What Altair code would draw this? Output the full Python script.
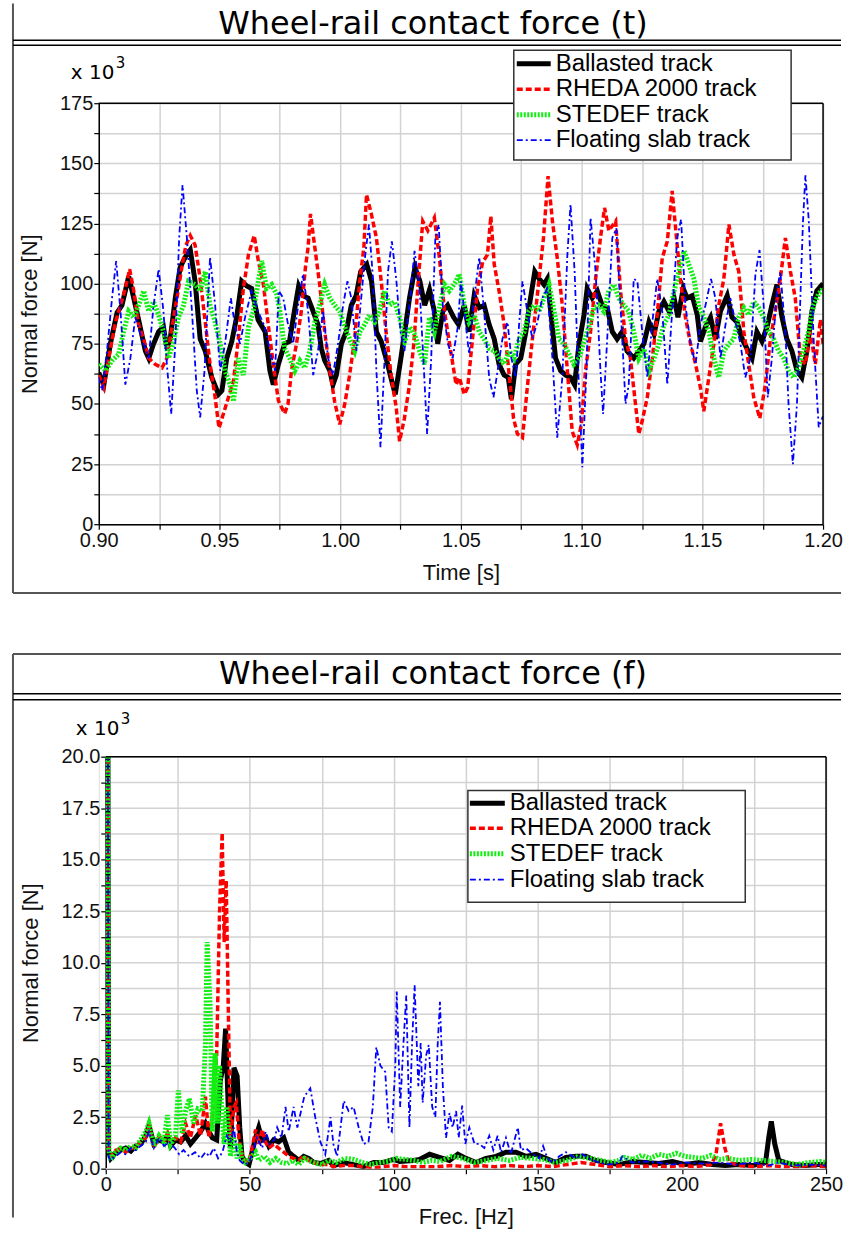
import altair as alt
import pandas as pd

SERIES = ["Ballasted track", "RHEDA 2000 track", "STEDEF track", "Floating slab track"]
COLORS = ["#000000", "#ff0000", "#11ee11", "#0000ff"]
WIDTHS = [5.0, 3.5, 5.0, 1.8]
DASHES = [None, [6, 3], [2, 1.5], [6, 3, 2, 3]]

TITLE_T = "Wheel-rail contact force (t)"
TITLE_F = "Wheel-rail contact force (f)"
X_TITLE_T = "Time [s]"
X_TITLE_F = "Frec. [Hz]"
Y_TITLE = "Normal force [N]"

TIME_TICKS = [0.9, 0.925, 0.95, 0.975, 1.0, 1.025, 1.05, 1.075, 1.1, 1.125, 1.15, 1.175, 1.2]
FORCE_T_TICKS = [0, 12.5, 25, 37.5, 50, 62.5, 75, 87.5, 100, 112.5, 125, 137.5, 150, 162.5, 175]
FREQ_TICKS = [0, 25, 50, 75, 100, 125, 150, 175, 200, 225, 250]
FORCE_F_TICKS = [0, 1.25, 2.5, 3.75, 5, 6.25, 7.5, 8.75, 10, 11.25, 12.5, 13.75, 15, 16.25, 17.5, 18.75, 20]

# time domain (s, kN)
ballasted_t = [(0.9000,63),(0.9021,58),(0.9048,75),(0.9076,88),(0.9096,91),(0.9124,103),(0.9145,94),(0.9165,85),(0.9193,72),(0.9207,69),(0.9227,75),(0.9248,80),(0.9268,82),(0.9282,73),(0.9296,77),(0.9317,94),(0.9337,106.7),(0.9358,111),(0.9379,114),(0.9399,101),(0.9420,77),(0.9441,72),(0.9468,61),(0.9496,54),(0.9510,55.5),(0.9530,69),(0.9551,76),(0.9571,86),(0.9592,101),(0.9613,99),(0.9633,98),(0.9660,85),(0.9689,80),(0.9709,63.8),(0.9723,58),(0.9744,66.5),
 (0.9770,75),(0.9790,76),(0.9810,88.5),(0.9828,99),(0.9846,95),(0.9867,94),(0.9888,88.5),(0.9908,83),(0.9922,73),(0.9936,68),(0.9957,63.8),(0.9970,58),(0.9984,62),(1.0005,75),(1.0025,80),(1.0046,91),(1.0066,95),(1.0085,105),(1.0110,108),(1.0130,101),(1.0150,80),(1.0170,76),(1.0190,69),(1.0215,59),(1.0228,54),(1.0250,68),(1.0266,79),(1.0287,94),(1.0310,106.7),(1.0330,101),(1.0350,91),(1.0370,97.5),(1.0390,88.5),(1.0404,75),(1.0425,88.5),(1.0445,91),(1.0470,86),
 (1.0490,83),(1.0514,91),(1.0534,80),(1.0555,95),(1.0576,90),(1.0596,91),(1.0617,83),(1.0638,77),(1.0658,66.5),(1.0679,62),(1.0696,61),(1.0709,52),(1.0727,66.5),(1.0748,69),(1.0769,80),(1.0786,92.5),(1.0806,105),(1.0824,102),(1.0844,99.6),(1.0858,102),(1.0872,88.5),(1.0892,69),(1.0913,63.8),(1.0934,62),(1.0954,61),(1.0971,58),(1.0989,75),(1.1010,87),(1.1023,98),(1.1044,94),(1.1065,97),(1.1085,91),(1.1106,90),(1.1127,80),(1.1147,77),(1.1168,80),(1.1188,72),(1.1216,69),
 (1.1238,72),(1.1258,75),(1.1279,84),(1.1300,79),(1.1320,88.5),(1.1341,92.5),(1.1362,88.5),(1.1383,94),(1.1399,86),(1.1421,98),(1.1437,94),(1.1458,95),(1.1479,87),(1.1492,76),(1.1513,82),(1.1534,86),(1.1554,77),(1.1575,88.5),(1.1603,95),(1.1623,86),(1.1644,84),(1.1665,77),(1.1685,73),(1.1706,69),(1.1726,80),(1.1747,76),(1.1768,82),(1.1788,91),(1.1809,99.6),(1.1830,86),(1.1850,77),(1.1871,72),(1.1892,63.8),(1.1912,61),(1.1933,72),(1.1954,88.5),(1.1974,97),(1.2000,100)]

rheda_t = [(0.9000,62),(0.9021,56.8),(0.9041,69),(0.9069,84),(0.9090,91),(0.9110,98),(0.9128,106),(0.9145,97),(0.9165,83),(0.9186,77),(0.9207,69),(0.9234,66.5),(0.9262,65),(0.9282,69),(0.9300,80),(0.9324,94),(0.9344,106.7),(0.9361,116),(0.9379,120),(0.9399,116),(0.9420,102),(0.9441,84),(0.9461,66.5),(0.9482,52.7),(0.9498,40),(0.9516,45.8),(0.9537,52.7),(0.9558,59.6),(0.9578,77),(0.9599,98),(0.9620,112),(0.9644,120),(0.9661,109.4),(0.9682,99.6),(0.9702,83),(0.9723,66.5),(0.9744,51.3),
 (0.9770,46),(0.9784,50),(0.9798,63.8),(0.9819,75),(0.9839,88.5),(0.9856,106.7),(0.9867,115),(0.9877,129),(0.9895,115),(0.9915,99.6),(0.9936,80),(0.9957,63.8),(0.9977,51),(0.9998,41.5),(1.0019,50),(1.0039,62),(1.0060,77),(1.0081,101),(1.0098,115),(1.0109,137),(1.0129,129),(1.0150,119),(1.0170,101),(1.0190,80),(1.0211,62),(1.0232,48.5),(1.0246,34.5),(1.0266,44),(1.0287,58),(1.0305,75),(1.0324,102),(1.0342,126),(1.0363,122),(1.0390,127.4),(1.0411,110.7),(1.0432,88.5),(1.0453,75),(1.0480,58),
 (1.0493,61),(1.0514,54),(1.0528,56.8),(1.0548,77),(1.0569,98),(1.0590,109),(1.0610,112),(1.0624,128),(1.0638,108),(1.0658,97),(1.0679,83),(1.0700,62),(1.0718,44),(1.0734,37.5),(1.0755,36),(1.0775,56.8),(1.0796,77),(1.0817,95.6),(1.0842,119),(1.0861,144.7),(1.0879,126),(1.0899,110.7),(1.0920,91),(1.0941,63.8),(1.0961,38.6),(1.0982,33),(1.0999,41.7),(1.1016,63.8),(1.1037,80),(1.1058,102),(1.1078,119),(1.1095,131.5),(1.1113,122),(1.1141,126),(1.1161,97),(1.1182,77),(1.1202,69),(1.1223,50),(1.1237,37.5),
 (1.1251,43),(1.1272,52.7),(1.1293,69),(1.1313,87),(1.1334,110.7),(1.1355,117.6),(1.1375,138.5),(1.1393,119),(1.1410,101),(1.1430,86),(1.1451,75),(1.1472,66.5),(1.1492,56.8),(1.1506,47),(1.1527,61),(1.1548,75),(1.1568,91),(1.1589,102),(1.1610,124.6),(1.1631,112),(1.1651,105),(1.1672,80),(1.1692,66.5),(1.1713,52.7),(1.1738,44),(1.1761,58),(1.1782,77),(1.1802,88.5),(1.1823,102),(1.1844,119),(1.1865,105),(1.1885,94),(1.1906,69),(1.1927,66.5),(1.1947,80),(1.1968,66.5),(1.1989,85),(1.2000,75)]

stedef_t = [(0.9000,66.5),(0.9028,63.8),(0.9055,68),(0.9083,70.7),(0.9103,80),(0.9124,88.5),(0.9145,86),(0.9165,91),(0.9186,97),(0.9207,88.5),(0.9227,92.5),(0.9248,87),(0.9268,80),(0.9289,69),(0.9310,76),(0.9330,86),(0.9351,91),(0.9372,101),(0.9399,99.6),(0.9420,97),(0.9441,105),(0.9461,91),(0.9482,84),(0.9503,75),(0.9523,63.8),(0.9544,58),(0.9558,51),(0.9578,69),(0.9599,62),(0.9620,82),(0.9640,88.5),(0.9661,101),(0.9675,109.4),(0.9695,98),(0.9716,99.6),(0.9737,95.6),
 (0.9750,88.5),(0.9770,73),(0.9791,69),(0.9812,63.8),(0.9833,68),(0.9853,65),(0.9874,72),(0.9895,84),(0.9915,91),(0.9936,99.6),(0.9957,94),(0.9977,91),(0.9998,88.5),(1.0019,82),(1.0039,77),(1.0060,72),(1.0081,80),(1.0101,83),(1.0122,87),(1.0143,84),(1.0163,88.5),(1.0184,97),(1.0205,91),(1.0225,92.5),(1.0246,86),(1.0267,76),(1.0287,82),(1.0308,79),(1.0329,72),(1.0349,66.5),(1.0370,86),(1.0390,80),(1.0411,90),(1.0432,99.6),(1.0452,97),(1.0480,101),
 (1.0493,104),(1.0514,91),(1.0534,84),(1.0555,87),(1.0576,80),(1.0596,77),(1.0617,73),(1.0638,72),(1.0658,69),(1.0679,66.5),(1.0700,72),(1.0720,69),(1.0741,77),(1.0762,80),(1.0782,88.5),(1.0803,91),(1.0824,88.5),(1.0844,94),(1.0865,99.6),(1.0886,88.5),(1.0906,77),(1.0927,75),(1.0948,70.7),(1.0968,66.5),(1.0989,69),(1.1010,76),(1.1030,82),(1.1051,90),(1.1072,91),(1.1092,88.5),(1.1113,97),(1.1134,99.6),(1.1154,94),(1.1175,91),(1.1195,88.5),(1.1216,80),(1.1237,69),
 (1.1258,73),(1.1279,63.8),(1.1300,69),(1.1320,75),(1.1341,83),(1.1362,87),(1.1383,97),(1.1403,105),(1.1424,113.6),(1.1444,108),(1.1465,102),(1.1486,90),(1.1506,86),(1.1527,80),(1.1548,69),(1.1568,61),(1.1589,72),(1.1610,75),(1.1630,77),(1.1651,86),(1.1672,90),(1.1692,87),(1.1713,92.5),(1.1733,90),(1.1754,86),(1.1775,80),(1.1795,77),(1.1816,72),(1.1837,69),(1.1857,63.8),(1.1878,61),(1.1898,65),(1.1919,72),(1.1940,80),(1.1960,91),(1.1981,95.6),(1.2000,98)]

floating_t = [(0.9000,61),(0.9014,55.5),(0.9034,72),(0.9055,94),(0.9072,109.4),(0.9090,88.5),(0.9110,58),(0.9131,69),(0.9151,86),(0.9179,77),(0.9207,69),(0.9227,91),(0.9248,106),(0.9268,88.5),(0.9282,66.5),(0.9300,45.8),(0.9317,75),(0.9333,119),(0.9347,141),(0.9365,119),(0.9386,88.5),(0.9406,55.5),(0.9420,44.4),(0.9438,63.8),(0.9461,111),(0.9482,91),(0.9503,63.8),(0.9523,75),(0.9547,94),(0.9565,82),(0.9585,75),(0.9606,86),(0.9633,97),(0.9660,88.5),(0.9688,82),(0.9709,72),(0.9730,63.8),
 (0.9746,97),(0.9764,94),(0.9784,83),(0.9805,75),(0.9826,91),(0.9846,104),(0.9867,88.5),(0.9888,62),(0.9908,72),(0.9929,88.5),(0.9950,69),(0.9970,62),(0.9991,75),(1.0012,91),(1.0030,101),(1.0046,94),(1.0067,72),(1.0087,94),(1.0104,112),(1.0119,124.6),(1.0136,102),(1.0150,63.8),(1.0167,32),(1.0184,69),(1.0198,105),(1.0214,117.6),(1.0232,102),(1.0250,80),(1.0266,72),(1.0287,91),(1.0308,113.6),(1.0329,98),(1.0347,63.8),(1.0360,37.5),(1.0377,69),(1.0394,119),(1.0408,124.6),(1.0425,91),(1.0446,75),(1.0466,69),(1.0487,82),
 (1.0500,101),(1.0514,88.5),(1.0534,70.7),(1.0555,94),(1.0576,111),(1.0596,88.5),(1.0617,61),(1.0635,52.7),(1.0652,63.8),(1.0672,77),(1.0693,84),(1.0709,69),(1.0727,61),(1.0741,83),(1.0755,101),(1.0775,88.5),(1.0796,77),(1.0817,84),(1.0837,94),(1.0858,98),(1.0879,69),(1.0899,36),(1.0920,61),(1.0941,112),(1.0954,133),(1.0971,105),(1.0985,66.5),(1.1003,23.7),(1.1020,63.8),(1.1037,127.4),(1.1058,105),(1.1078,63.8),(1.1089,45.8),(1.1106,77),(1.1127,119),(1.1144,123),(1.1161,91),(1.1182,50),(1.1195,58),(1.1216,102),
 (1.1231,101),(1.1251,80),(1.1272,61),(1.1293,84),(1.1313,102),(1.1334,88.5),(1.1355,58),(1.1375,88.5),(1.1396,119),(1.1412,126.7),(1.1430,91),(1.1451,75),(1.1472,66.5),(1.1492,83),(1.1513,91),(1.1536,102),(1.1554,94),(1.1575,69),(1.1596,83),(1.1616,94),(1.1637,84),(1.1658,75),(1.1678,61),(1.1699,69),(1.1720,104),(1.1737,114),(1.1754,91),(1.1771,52.7),(1.1788,69),(1.1809,97),(1.1823,105),(1.1844,80),(1.1857,50),(1.1875,25),(1.1892,50),(1.1906,94),(1.1917,126),(1.1927,145),(1.1941,126),(1.1961,77),(1.1982,40.3),(1.2000,45)]

# frequency domain (Hz, kN)
ballasted_f = [(0,80),(1,0.8),(1.7,0.5),(3.5,0.8),(5.2,0.9),(6.9,1.0),(8.7,0.85),(10.4,1.1),(12.1,1.2),(13.9,1.6),(15,2.1),(16.7,1.2),(18.5,1.4),(20.2,1.3),(21.4,1.6),(22.5,1.1),(24.2,1.4),(26,1.3),(27.7,1.6),(29.4,1.2),(31.2,1.5),(32.9,1.8),(34.6,2.2),(35.8,1.8),(37,1.5),(38.5,1.4),(39.8,4.3),(40.8,5.0),(41.6,6.8),(42.5,3.0),(43.3,1.0),(44.5,4.9),(45.6,4.5),(46.5,2.0),(47.3,0.6),(48.5,0.3),(49.7,0.2),(50.8,0.8),(52,1.5),(53.1,2.0),(54.3,1.4),(55.4,1.5),(56.6,1.1),(58.3,1.4),(60,1.3),(61.8,1.5),(63.5,0.8),(65.2,0.6),(67,0.4),(68.7,0.6),(70.4,0.5),(72.2,0.3),(74.5,0.25),(77.4,0.4),(79,0.15),(82.6,0.3),(86,0.2),(89.5,0.1),(93,0.3),(96.4,0.3),(100,0.45),(102,0.35),(106.8,0.4),(108.9,0.45),(112.4,0.7),(115.8,0.55),(119.3,0.4),(122.2,0.7),(125,0.5),(128.5,0.3),(132,0.5),(135.5,0.6),(138.9,0.8),(142.4,0.8),(145.8,0.6),(149.3,0.7),(152.8,0.5),(156.2,0.3),(159.7,0.55),(163.2,0.6),(166.6,0.6),(170,0.4),(173.6,0.3),(178.2,0.2),(182.8,0.35),(187.4,0.3),(192,0.25),(196.7,0.35),(201.3,0.2),(205.9,0.3),(210.5,0.2),(215.1,0.15),(219.7,0.2),(224.4,0.15),(229,0.3),(230.1,1.5),(231,2.3),(232.2,1.2),(233.6,0.4),(238.2,0.2),(242.8,0.15),(247.5,0.2),(250,0.2)]

rheda_f = [(0,80),(1,0.8),(1.7,0.6),(3.5,0.9),(5.2,1.0),(6.9,0.8),(8.7,1.0),(10.4,1.0),(12.1,1.3),(13.9,1.5),(15,2.0),(16.7,1.0),(18.5,1.6),(20.2,1.3),(21.4,1.7),(22.5,1.2),(24.2,1.5),(26,1.3),(27.7,2.2),(29.4,1.5),(31.2,2.6),(32.9,1.6),(34.6,3.5),(35.8,1.5),(37,2.5),(38.5,5.5),(39.5,12.5),(40.4,16.3),(41.1,11.0),(41.8,14.0),(42.5,8.0),(43.3,1.5),(44.5,3.0),(45.3,3.2),(46.2,1.5),(47.3,0.5),(48.5,0.4),(49.7,0.3),(50.8,1.0),(52,1.9),(53.1,1.2),(54.3,1.9),(55.4,1.3),(56.6,1.0),(58.3,1.2),(60,1.0),(61.8,0.8),(63.5,0.6),(65.2,0.5),(67,0.4),(68.7,0.6),(70.4,0.4),(72.2,0.3),(74.5,0.2),(77.4,0.2),(79,0.1),(82.6,0.15),(86,0.15),(89.5,0.1),(93,0.05),(96.4,0.1),(100,0.15),(104,0.1),(108.9,0.1),(115,0.1),(120,0.15),(125,0.1),(130,0.15),(135,0.1),(140,0.15),(145,0.1),(150,0.15),(155,0.1),(160,0.2),(165,0.3),(170,0.2),(175,0.1),(180,0.15),(185,0.1),(190,0.15),(195,0.1),(200,0.15),(205,0.1),(210,0.2),(211.7,0.6),(213.4,2.2),(214.9,1.0),(216.3,0.3),(220,0.15),(225,0.1),(230,0.15),(235,0.1),(240,0.1),(245,0.15),(250,0.1)]

stedef_f = [(0,80),(1,1.0),(1.7,0.4),(3.5,0.8),(5.2,1.0),(6.9,0.9),(8.7,1.1),(10.4,1.0),(12.1,1.4),(13.9,1.8),(15,2.2),(16.7,1.1),(18.5,1.6),(20.2,1.3),(21.4,2.6),(22.5,1.2),(24.2,1.6),(25.2,3.8),(26.5,1.7),(27.7,2.8),(29,3.4),(30.5,2.2),(32,2.9),(33.5,2.8),(34.6,6.0),(35.2,11.0),(36.2,8.0),(37,1.8),(38,5.6),(38.8,2.2),(39.5,5.0),(40.4,2.5),(41.1,1.2),(42,3.0),(43.3,0.6),(44.5,1.5),(45.6,0.5),(46.5,1.2),(47.3,0.5),(48.5,0.3),(50,0.5),(52,0.8),(53.1,0.4),(55,0.6),(57,0.3),(59,0.5),(61,0.3),(63,0.25),(65,0.4),(67,0.2),(69,0.5),(72,0.3),(75,0.2),(77.4,0.4),(80,0.3),(83,0.5),(86,0.45),(89,0.3),(92,0.2),(95,0.3),(98,0.35),(101,0.5),(104,0.45),(107,0.4),(110,0.3),(113,0.4),(116,0.35),(120,0.6),(124,0.5),(128,0.3),(132,0.4),(136,0.5),(140,0.4),(144,0.55),(148,0.5),(152,0.45),(156,0.3),(160,0.4),(164,0.6),(168,0.5),(172,0.4),(175,0.3),(178,0.4),(180,0.55),(183,0.45),(186,0.65),(189,0.5),(192,0.7),(195,0.6),(198,0.75),(201,0.6),(204,0.55),(207,0.5),(210,0.65),(213,0.45),(216,0.5),(220,0.4),(224,0.45),(228,0.4),(232,0.35),(236,0.3),(240,0.2),(244,0.3),(248,0.35),(250,0.3)]

floating_f = [(0,80),(1,0.6),(1.7,0.4),(3.5,0.6),(5.2,0.8),(6.9,0.7),(8.7,1.0),(10.4,0.9),(12.1,1.1),(13.9,1.3),(15,1.8),(16.7,1.0),(18.5,1.5),(20.2,1.1),(22,1.3),(24,1.0),(25.5,0.7),(27,0.9),(29,0.6),(31,0.8),(33,0.5),(34.6,0.8),(36,0.6),(37.5,1.0),(39,0.5),(40.5,0.8),(42,1.6),(43.3,1.3),(44.5,2.0),(45.5,0.8),(46.5,0.4),(48,0.2),(49.7,0.3),(51,0.8),(52.5,1.5),(54.3,1.0),(55.5,1.8),(57,1.2),(58.5,1.4),(59.5,2.0),(61,1.5),(62.4,3.0),(63.5,1.8),(65.2,3.0),(66.5,2.0),(68.9,3.5),(71,3.9),(72.7,2.5),(74.5,1.3),(76.2,0.7),(78,2.5),(79,1.2),(80.3,0.6),(82.6,3.3),(84.3,2.8),(86,3.0),(87.8,2.0),(89.5,1.2),(91.2,1.3),(92.7,3.0),(93.9,5.9),(95.3,5.0),(97,4.7),(98.2,2.0),(99.3,1.8),(100.5,5.0),(101,8.6),(102.2,3.0),(103.3,6.0),(104.3,8.4),(105.4,2.0),(106.3,6.0),(107.2,8.9),(108.5,4.0),(109.3,6.1),(110,3.2),(111.2,5.5),(112.1,6.0),(113.3,3.0),(114.4,2.5),(115.2,6.0),(116,8.1),(117,4.0),(118.1,1.5),(119.3,2.7),(120.4,2.0),(121.6,2.8),(122.5,1.5),(123.7,3.06),(124.8,1.2),(126.2,2.0),(128,1.2),(129.7,1.2),(131.4,1.0),(133.1,1.6),(134.5,0.9),(136,1.6),(137.2,0.8),(138.9,1.5),(140.6,0.7),(143,2.0),(144.1,0.9),(145.8,1.0),(148.2,0.7),(150.5,0.5),(151.8,1.1),(153.3,0.5),(155.1,0.3),(157.4,0.6),(159.7,0.8),(163.2,0.5),(165.5,0.7),(167.8,0.5),(171.2,0.3),(174.7,0.2),(178.2,0.3),(179.3,0.6),(182.8,0.3),(187.4,0.35),(192,0.3),(196.7,0.2),(201.3,0.3),(207,0.25),(212.8,0.3),(218.6,0.2),(224.4,0.3),(230.1,0.15),(233.6,0.3),(238.2,0.15),(244,0.2),(250,0.15)]

TIME_DATA = [ballasted_t, rheda_t, stedef_t, floating_t]
FREQ_DATA = [ballasted_f, rheda_f, stedef_f, floating_f]

FONT = "Liberation Sans"
TITLE_FONT = "DejaVu Sans"
GRID = "#d2d2d2"
ONE = pd.DataFrame({"k": [0]})


def make_axis(values, label_expr, title, title_pad, grid=True, offset=0):
    return alt.Axis(values=values, labelExpr=label_expr, title=title, grid=grid,
                    gridColor=GRID, gridWidth=1.5, tickColor="#000", tickSize=5,
                    tickWidth=1.2, domainColor="#000", domainWidth=1.5,
                    labelFontSize=20, labelColor="#111", labelFont=FONT,
                    titleFont=FONT, titleFontSize=22, titleFontWeight="normal",
                    titleColor="#111", titlePadding=title_pad, labelPadding=1,
                    labelOverlap=False, labelFlush=False, offset=offset)


def hrule(x1, x2, y, color, w):
    return alt.Chart(ONE).mark_rule(color=color, strokeWidth=w).encode(
        x=alt.value(x1), x2=alt.value(x2), y=alt.value(y))


def vrule(x, y1, y2, color, w):
    return alt.Chart(ONE).mark_rule(color=color, strokeWidth=w).encode(
        x=alt.value(x), y=alt.value(y1), y2=alt.value(y2))


def label(txt, x, y, size, font, align="left"):
    return alt.Chart(ONE).mark_text(text=txt, fontSize=size, font=font, align=align,
                                    baseline="alphabetic", color="#000").encode(
        x=alt.value(x), y=alt.value(y))


def legend_layers(box, rows, sx1, sx2, tx):
    layers = [alt.Chart(ONE).mark_rect(fill="white", stroke="#333", strokeWidth=1.5).encode(
        x=alt.value(box[0]), x2=alt.value(box[1]), y=alt.value(box[2]), y2=alt.value(box[3]))]
    for i, name in enumerate(SERIES):
        d = pd.DataFrame({"series": [name]})
        kw = dict(color=COLORS[i], strokeWidth=WIDTHS[i])
        if DASHES[i]:
            kw["strokeDash"] = DASHES[i]
        layers.append(alt.Chart(d).mark_rule(**kw).encode(
            x=alt.value(sx1), x2=alt.value(sx2), y=alt.value(rows[i])))
        layers.append(alt.Chart(d).mark_text(align="left", baseline="middle", fontSize=24,
                                             font=FONT, color="#000").encode(
            x=alt.value(tx), y=alt.value(rows[i]), text="series:N"))
    return layers


def line_layers(datasets, xf, x_enc, y_enc):
    layers = []
    for i, pts in enumerate(datasets):
        df = pd.DataFrame(pts, columns=[xf, "force"])
        kw = dict(color=COLORS[i], strokeWidth=WIDTHS[i], clip=True)
        if DASHES[i]:
            kw["strokeDash"] = DASHES[i]
        layers.append(alt.Chart(df).mark_line(**kw).encode(x=x_enc, y=y_enc))
    return layers


# ---------- top panel (time): plot origin at page (98, ~101) ----------
x_t = alt.X("t:Q", scale=alt.Scale(domain=[0.9, 1.2], nice=False, zero=False),
            axis=make_axis(TIME_TICKS,
                           "round(datum.value*1000) % 50 === 0 ? format(datum.value, '.2f') : ''",
                           X_TITLE_T, 12))
y_t = alt.Y("force:Q", scale=alt.Scale(domain=[0, 175], nice=False),
            axis=make_axis(FORCE_T_TICKS,
                           "datum.value % 25 === 0 ? format(datum.value, 'd') : ''",
                           Y_TITLE, 18))

top_layers = line_layers(TIME_DATA, "t", x_t, y_t)
top_layers += [
    hrule(0, 726, 0, "#000", 1.5),
    vrule(726, 0, 422, "#000", 1.5),
    vrule(-86, -100, 491, "#555", 2),
    hrule(-86, 744, 491, "#555", 2),
    hrule(-86, 744, -63, "#000", 1.5),
    hrule(-86, 744, -58, "#000", 1.5),
    label(TITLE_T, 335, -69, 32, TITLE_FONT, "center"),
    label("x 10", -28, -24, 20, TITLE_FONT),
    label("3", 17, -35, 15, TITLE_FONT),
]
top_layers += legend_layers([416, 694, -53, 57], [-39.5, -14, 11.5, 37], 419, 453, 458)
top = alt.layer(*top_layers).properties(width=726, height=422)

# ---------- bottom panel (freq): same group origin, plot starts 7 px further right ----------
x_f = alt.X("f:Q", scale=alt.Scale(domain=[0, 250], range=[7, 729], nice=False),
            axis=make_axis(FREQ_TICKS,
                           "datum.value % 50 === 0 ? format(datum.value, 'd') : ''",
                           X_TITLE_F, 12))
y_f = alt.Y("force:Q", scale=alt.Scale(domain=[0, 20], nice=False),
            axis=make_axis(FORCE_F_TICKS,
                           "round(datum.value*100) % 250 === 0 ? format(datum.value, '.1f') : ''",
                           Y_TITLE, 18, grid=False, offset=-7))

ygrid_f = alt.Chart(pd.DataFrame({"force": FORCE_F_TICKS})).mark_rule(
    color=GRID, strokeWidth=1.5).encode(y=y_f, x=alt.value(7), x2=alt.value(729))

bot_layers = [ygrid_f] + line_layers(FREQ_DATA, "f", x_f, y_f)
bot_layers += [
    hrule(7, 729, 0, "#000", 1.5),
    vrule(729, 0, 413, "#000", 1.5),
    vrule(-86, -103, 462, "#555", 2),
    hrule(-86, 744, -103, "#555", 2),
    hrule(-86, 744, -63, "#000", 1.5),
    hrule(-86, 744, -57, "#000", 1.5),
    label(TITLE_F, 335, -73, 32, TITLE_FONT, "center"),
    label("x 10", -23, -22, 20, TITLE_FONT),
    label("3", 22, -33, 15, TITLE_FONT),
]
bot_layers += legend_layers([370, 648, 34, 146], [46.7, 71.7, 97.3, 123.3], 372, 407, 412)
bottom = alt.layer(*bot_layers).properties(width=729, height=413)

chart = alt.vconcat(top, bottom, spacing=57).properties(
    padding={"left": 11, "top": 0, "right": 0, "bottom": 0}
).configure_view(strokeWidth=0).configure(background="white")

chart.save("out.html", embed_options={"renderer": "svg", "actions": False})
